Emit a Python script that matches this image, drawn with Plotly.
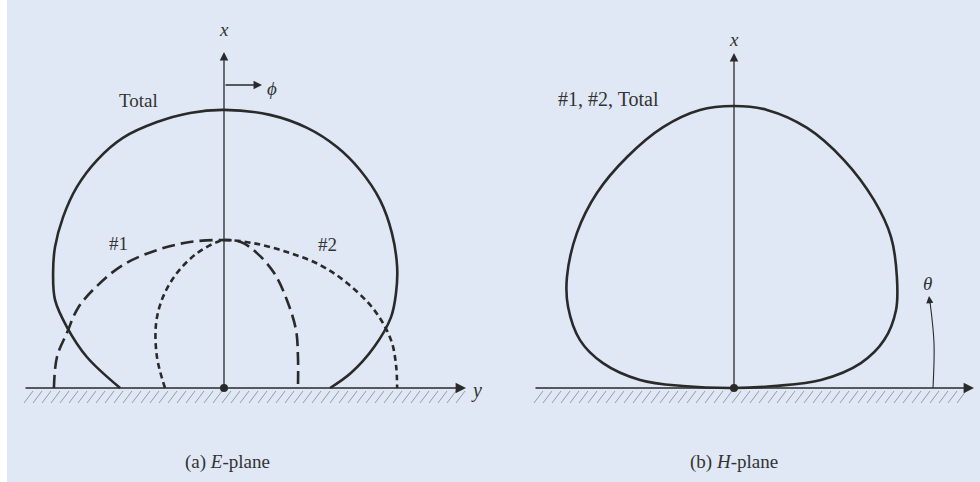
import plotly.graph_objects as go

# patterns, units of the E-plane "Total" maximum
# y = horizontal coordinate, x = vertical coordinate (along the x axis)
e_total_y = [-0.375, -0.495, -0.567, -0.610, -0.617, -0.610, -0.581, -0.531, -0.458, -0.365, -0.242, -0.123, 0.0,
             0.166, 0.300, 0.408, 0.491, 0.563, 0.606, 0.625, 0.621, 0.603, 0.542, 0.458, 0.383]
e_total_x = [0.0, 0.112, 0.220, 0.318, 0.415, 0.509, 0.617, 0.726, 0.823, 0.903, 0.960, 0.993, 1.004,
             0.986, 0.939, 0.870, 0.787, 0.679, 0.560, 0.437, 0.343, 0.256, 0.148, 0.054, 0.0]

e_1_y = [-0.614, -0.603, -0.567, -0.527, -0.462, -0.365, -0.242, -0.123, 0.0,
         0.061, 0.119, 0.181, 0.227, 0.260, 0.267, 0.267]
e_1_x = [0.0, 0.112, 0.199, 0.289, 0.365, 0.444, 0.498, 0.527, 0.534,
         0.527, 0.487, 0.415, 0.318, 0.209, 0.112, 0.0]

e_2_y = [-0.213, -0.242, -0.245, -0.220, -0.170, -0.097, -0.025, 0.0,
         0.105, 0.227, 0.347, 0.444, 0.542, 0.603, 0.621, 0.625]
e_2_x = [0.0, 0.112, 0.235, 0.329, 0.415, 0.487, 0.527, 0.534,
         0.523, 0.491, 0.444, 0.379, 0.282, 0.173, 0.083, 0.0]

h_total_y = [0.0, -0.184, -0.339, -0.473, -0.556, -0.599, -0.603, -0.567, -0.495, -0.386, -0.256, -0.123, 0.0,
             0.119, 0.264, 0.397, 0.505, 0.567, 0.588, 0.585, 0.542, 0.458, 0.314, 0.144, 0.0]
h_total_x = [0.0, 0.007, 0.029, 0.090, 0.173, 0.292, 0.401, 0.560, 0.704, 0.834, 0.942, 1.004, 1.018,
             1.004, 0.939, 0.823, 0.679, 0.545, 0.401, 0.282, 0.173, 0.090, 0.029, 0.007, 0.0]

# page geometry (pixels)
W, H = 980, 482
S = 277.0          # pixels per unit
GROUND = 388       # ground line row
OA, OB = 224, 734  # origins of the two panels

INK = '#2a2a2a'
BG = '#dfe8f4'
FONT = 'Liberation Serif'


def pa(px, py):
    return (px - OA) / S, (GROUND - py) / S


def pb(px, py):
    return (px - OB) / S, (GROUND - py) / S


fig = go.Figure()

# ground hatching
for conv, xref, x0, x1 in [(pa, 'x', 24, 462), (pb, 'x2', 534, 962)]:
    hx, hy = [], []
    px = x0
    while px < x1:
        a = conv(px, 403)
        b = conv(px + 9, 391)
        hx += [a[0], b[0], None]
        hy += [a[1], b[1], None]
        px += 9
    fig.add_trace(go.Scatter(x=hx, y=hy, mode='lines', xaxis=xref, yaxis='y',
                             line=dict(color='#8a929c', width=0.9), hoverinfo='skip'))

# patterns
curve = dict(color=INK, width=2.6, shape='spline', smoothing=1.0)
fig.add_trace(go.Scatter(x=e_total_y, y=e_total_x, mode='lines', name='Total', line=curve))
fig.add_trace(go.Scatter(x=e_1_y, y=e_1_x, mode='lines', name='#1', line=dict(curve, dash='13px,6px')))
fig.add_trace(go.Scatter(x=e_2_y, y=e_2_x, mode='lines', name='#2', line=dict(curve, dash='6px,4px')))
fig.add_trace(go.Scatter(x=h_total_y, y=h_total_x, mode='lines', name='#1, #2, Total',
                         xaxis='x2', yaxis='y', line=curve))

# origin dots
fig.add_trace(go.Scatter(x=[0], y=[0], mode='markers', marker=dict(color=INK, size=8)))
fig.add_trace(go.Scatter(x=[0], y=[0], mode='markers', xaxis='x2', yaxis='y', marker=dict(color=INK, size=8)))

# theta arc
tx, ty = zip(pb(933, 388), pb(934, 343), pb(930, 302))
fig.add_trace(go.Scatter(x=list(tx), y=list(ty), mode='lines', xaxis='x2', yaxis='y',
                         line=dict(color=INK, width=1.1, shape='spline')))

annotations = []


def arrow(conv, xref, tail, head, width=1.3):
    hx, hy = conv(*head)
    tx_, ty_ = conv(*tail)
    annotations.append(dict(x=hx, y=hy, ax=tx_, ay=ty_, xref=xref, yref='y', axref=xref, ayref='y',
                            text='', showarrow=True, arrowhead=2, arrowsize=1.3, arrowwidth=width,
                            arrowcolor=INK, standoff=0, startstandoff=0))


def label(conv, xref, px, py, text, size=19):
    x, y = conv(px, py)
    annotations.append(dict(x=x, y=y, xref=xref, yref='y', text=text, showarrow=False,
                            font=dict(family=FONT, size=size, color='#333333')))


# axes
arrow(pa, 'x', (24, GROUND), (466, GROUND), 1.6)
arrow(pa, 'x', (OA, GROUND), (OA, 52))
arrow(pa, 'x', (OA, 85), (262, 85))
arrow(pb, 'x2', (534, GROUND), (974, GROUND), 1.6)
arrow(pb, 'x2', (OB, GROUND), (OB, 53))
arrow(pb, 'x2', (930, 305), (929, 296), 1.1)

label(pa, 'x', OA, 29, '<i>x</i>', 19)
label(pa, 'x', 476, 390, '<i>y</i>', 20)
label(pa, 'x', 272, 88, '<i>ϕ</i>', 19)
label(pa, 'x', 138, 100, 'Total')
label(pa, 'x', 118, 243, '#1')
label(pa, 'x', 327, 244, '#2')
label(pa, 'x', 227, 462, '(a) <i>E</i>-plane', 19)
label(pb, 'x2', OB, 39, '<i>x</i>', 19)
label(pb, 'x2', 608, 99, '#1, #2, Total', 20)
label(pb, 'x2', 927, 283, '<i>θ</i>', 19)
label(pb, 'x2', 734, 462, '(b) <i>H</i>-plane', 19)

axis_common = dict(visible=False, showgrid=False, zeroline=False, fixedrange=True)

fig.update_layout(
    width=W, height=H,
    margin=dict(l=0, r=0, t=0, b=0),
    paper_bgcolor=BG, plot_bgcolor='rgba(0,0,0,0)',
    showlegend=False,
    xaxis=dict(domain=[0, 0.5], range=[-OA / S, (490 - OA) / S], anchor='y', **axis_common),
    xaxis2=dict(domain=[0.5, 1], range=[(490 - OB) / S, (W - OB) / S], anchor='y', **axis_common),
    yaxis=dict(domain=[0, 1], range=[(GROUND - H) / S, GROUND / S], **axis_common),
    annotations=annotations,
    shapes=[dict(type='rect', xref='paper', yref='paper', x0=0, x1=7 / W, y0=0, y1=1,
                 fillcolor='white', line=dict(width=0), layer='below')],
)

fig.write_html("out.html", config={'displayModeBar': False},
               post_script="document.body.style.margin='0px';document.body.style.overflow='hidden';")
